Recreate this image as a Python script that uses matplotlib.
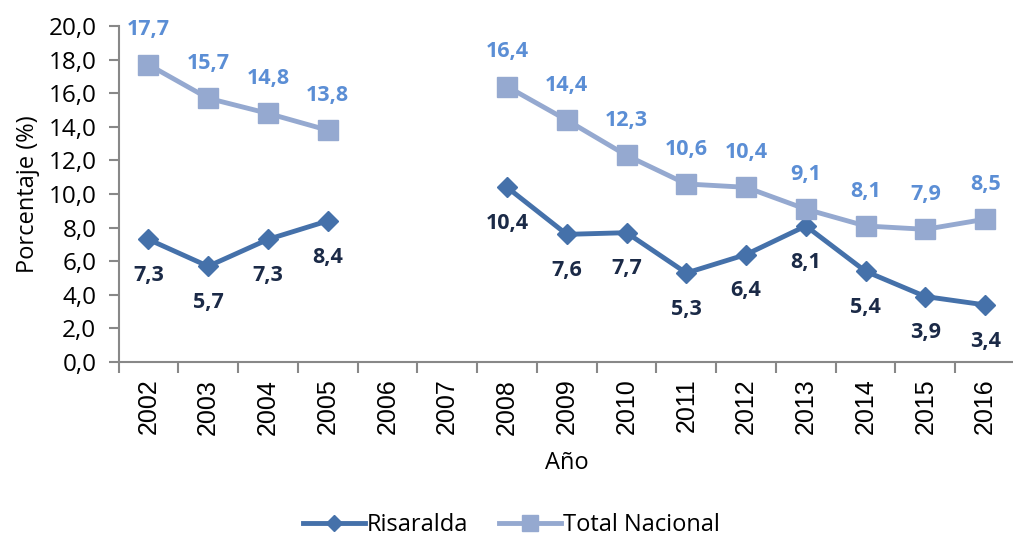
import numpy as np
import matplotlib.pyplot as plt

years = ['2002', '2003', '2004', '2005', '2006', '2007', '2008', '2009',
         '2010', '2011', '2012', '2013', '2014', '2015', '2016']
risaralda = [7.3, 5.7, 7.3, 8.4, np.nan, np.nan, 10.4, 7.6, 7.7, 5.3, 6.4, 8.1, 5.4, 3.9, 3.4]
nacional = [17.7, 15.7, 14.8, 13.8, np.nan, np.nan, 16.4, 14.4, 12.3, 10.6, 10.4, 9.1, 8.1, 7.9, 8.5]

plt.rcParams['font.family'] = ['Open Sans', 'DejaVu Sans']

c_ris = '#4571AA'
c_nac = '#95A9D0'

fig = plt.figure(figsize=(10.13, 5.42), dpi=100)
ax = fig.add_axes([0.117, 0.332, 0.885, 0.62])

x = np.arange(len(years))
ax.plot(x, risaralda, color=c_ris, lw=3.5, marker='D', ms=10, label='Risaralda')
ax.plot(x, nacional, color=c_nac, lw=3.5, marker='s', ms=14, label='Total Nacional')

def fmt(v):
    return ('%.1f' % v).replace('.', ',')

for i, v in enumerate(risaralda):
    if not np.isnan(v):
        ax.annotate(fmt(v), (i, v), xytext=(0, -26), textcoords='offset points',
                    ha='center', va='center', fontsize=15.5, fontweight='bold', color='#1B2A47')
for i, v in enumerate(nacional):
    if not np.isnan(v):
        ax.annotate(fmt(v), (i, v), xytext=(0, 25), textcoords='offset points',
                    ha='center', va='center', fontsize=15.5, fontweight='bold', color='#5B8ED5')

ax.set_xlim(-0.5, len(years) - 0.5)
ax.set_ylim(0, 20)
ax.set_yticks(np.arange(0, 20.1, 2))
ax.set_yticklabels([fmt(v) for v in np.arange(0, 20.1, 2)], fontsize=17.5)
ax.set_xticks(np.arange(-0.5, len(years), 1), minor=False)
ax.set_xticklabels([])
ax.set_xticks(x, minor=True)
ax.set_xticklabels(years, minor=True, rotation=90, fontsize=18, family='Liberation Sans')
ax.tick_params(axis='x', which='major', length=8, color='#888888', width=1.5)
ax.tick_params(axis='x', which='minor', length=0, pad=12)
ax.tick_params(axis='y', length=7, color='#888888', width=1.5, pad=9)

for s in ['top', 'right']:
    ax.spines[s].set_visible(False)
for s in ['left', 'bottom']:
    ax.spines[s].set_color('#888888')
    ax.spines[s].set_linewidth(1.5)

ax.set_ylabel('Porcentaje (%)', fontsize=17, labelpad=6)
ax.set_xlabel('Año', fontsize=17, labelpad=12)

fig.legend(loc='lower center', ncol=2, frameon=False, fontsize=17,
           bbox_to_anchor=(0.505, -0.03), handlelength=2.6, columnspacing=1.3,
           handletextpad=0.1, markerscale=0.8)

fig.savefig('out.png', dpi=100)
